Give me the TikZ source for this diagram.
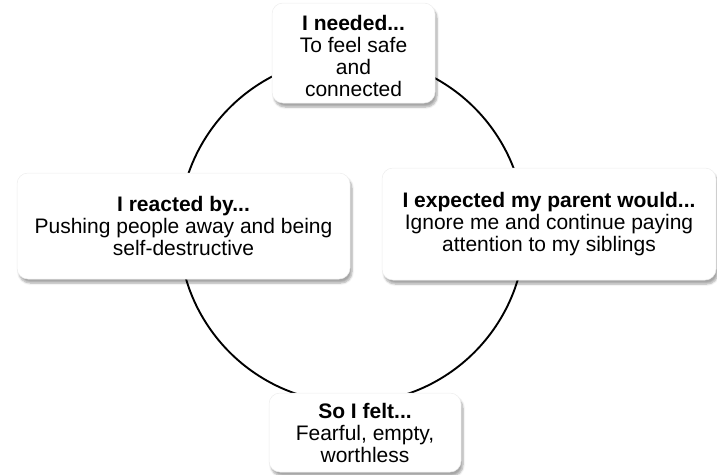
\documentclass[tikz,border=0pt]{standalone}
\usepackage{fontspec}
\setmainfont{Liberation Sans}
\usetikzlibrary{shadows.blur}
\begin{document}
\begin{tikzpicture}[x=1pt,y=-1pt,
  card/.style={rounded corners=11pt, fill=white, draw=black!7, line width=0.5pt,
    blur shadow={shadow xshift=2pt, shadow yshift=-4pt, shadow blur steps=6, shadow opacity=35},
    align=center, font=\fontsize{21}{22}\selectfont, inner sep=0pt},
  ring/.style={line width=1.9pt, draw=black}]
\useasboundingbox (0,0) rectangle (717,474);
\coordinate (c) at (352,230);
\draw[ring] (c) circle (173pt);
\node[card, minimum width=163pt, minimum height=100pt] (need) at (353.5,53)
  {\rule{0pt}{21pt}\textbf{I needed...}\\To feel safe\\and\\connected};
\node[card, minimum width=333pt, minimum height=106pt] (react) at (183.5,226)
  {\textbf{I reacted by...}\\Pushing people away and being\\self-destructive};
\node[card, minimum width=334pt, minimum height=112pt] (expect) at (549,224)
  {\textbf{I expected my parent would...}\\Ignore me and continue paying\\attention to my siblings};
\node[card, minimum width=192pt, minimum height=79pt] (felt) at (365,432.5)
  {\textbf{So I felt...}\\Fearful, empty,\\worthless};
\end{tikzpicture}
\end{document}
